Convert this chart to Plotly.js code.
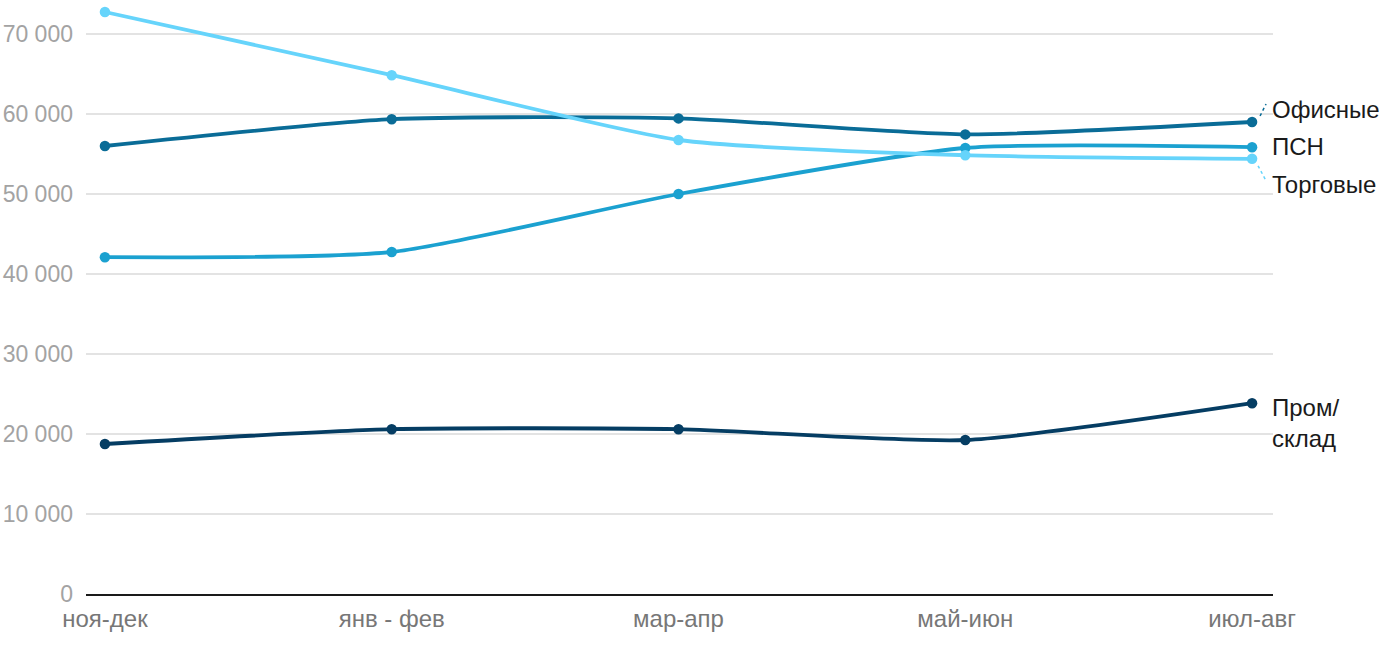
<!DOCTYPE html>
<html><head><meta charset="utf-8">
<script src="https://cdn.plot.ly/plotly-3.0.1.min.js"></script>
<style>html,body{margin:0;padding:0;background:#fff}#chart{width:1400px;height:650px}</style>
</head><body><div id="chart"></div>
<script>
const categories = ["ноя-дек", "янв - фев", "мар-апр", "май-июн", "июл-авг"];
const seriesNames = ["Офисные", "ПСН", "Торговые", "Пром/<br>склад"];
const office = [56000, 59350, 59450, 57450, 59000];
const psn = [42100, 42750, 50000, 55750, 55850];
const retail = [72750, 64850, 56750, 54850, 54400];
const industrial = [18750, 20600, 20600, 19250, 23850];
const yTicks = [0, 10000, 20000, 30000, 40000, 50000, 60000, 70000];

const colors = ["#0a6c97", "#1ba1d0", "#66d4fb", "#053d63"];
const allSeries = [office, psn, retail, industrial];
const labelShift = [13, 1, -26, -20];
const FONT = "'Liberation Sans', Arial, Helvetica, sans-serif";

const traces = allSeries.map((s, i) => ({
  x: categories, y: s, type: "scatter", mode: "lines+markers",
  name: seriesNames[i],
  line: {color: colors[i], width: 3.8, shape: "spline", smoothing: 0.6},
  marker: {color: colors[i], size: 10.5},
  cliponaxis: false, hoverinfo: "skip"
}));

const annotations = allSeries.map((s, i) => ({
  x: categories[categories.length - 1], y: s[s.length - 1],
  xref: "x", yref: "y", text: seriesNames[i], showarrow: false,
  xanchor: "left", yanchor: "middle", xshift: 18, yshift: labelShift[i],
  align: "left",
  font: {family: FONT, size: 24, color: "#1a1a1a"}
}));

const last = categories[categories.length - 1];
const shapes = [
  {type: "line", xref: "x", yref: "y", xsizemode: "pixel", ysizemode: "pixel",
   xanchor: last, yanchor: office[4], x0: 8, x1: 14, y0: 6, y1: 18,
   line: {color: colors[0], width: 1.5, dash: "dot"}},
  {type: "line", xref: "x", yref: "y", xsizemode: "pixel", ysizemode: "pixel",
   xanchor: last, yanchor: retail[4], x0: 6, x1: 14, y0: -7, y1: -22,
   line: {color: colors[2], width: 1.5, dash: "dot"}}
];

const layout = {
  width: 1400, height: 650,
  margin: {l: 86, r: 127, t: 6, b: 56},
  paper_bgcolor: "#fff", plot_bgcolor: "#fff",
  showlegend: false,
  separators: ". ",
  font: {family: FONT},
  xaxis: {
    type: "category", range: [-0.066, 4.073],
    showgrid: false, zeroline: false,
    showline: true, linecolor: "#1a1a1a", linewidth: 2,
    ticks: "", tickfont: {family: FONT, size: 24, color: "#777"},
    ticklabelstandoff: 2,
    fixedrange: true
  },
  yaxis: {
    range: [0, 73500], tickvals: yTicks, tickformat: ",d",
    showgrid: true, gridcolor: "#e3e3e3", gridwidth: 2,
    zeroline: false, showline: false, ticks: "",
    ticklabelstandoff: 12,
    tickfont: {family: FONT, size: 23, color: "#a3a3a3"},
    fixedrange: true
  },
  annotations: annotations,
  shapes: shapes
};

Plotly.newPlot("chart", traces, layout, {displayModeBar: false, staticPlot: true});
</script>
</body></html>
